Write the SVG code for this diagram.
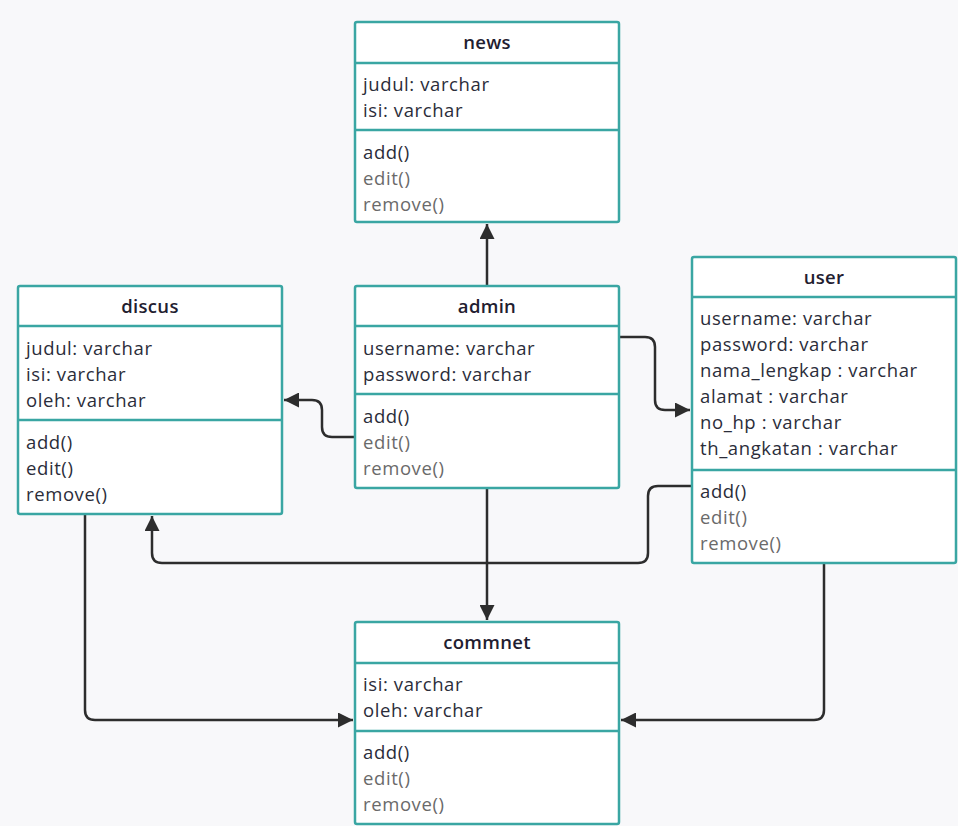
<svg xmlns="http://www.w3.org/2000/svg" width="958" height="826" viewBox="0 0 958 826">
<defs>
<marker id="arr" viewBox="0 0 10 10" refX="10" refY="5" markerWidth="6" markerHeight="6" markerUnits="strokeWidth" orient="auto">
<path d="M0,0 L10,5 L0,10 z" fill="#2d2d2d"/>
</marker>
<style>
.box{fill:#ffffff;stroke:#3aa6a3;stroke-width:2.5}
.sep{stroke:#3aa6a3;stroke-width:2.5}
.t{font-family:"Open Sans","Noto Sans","DejaVu Sans",sans-serif;font-size:18.5px;letter-spacing:0.6px;fill:#2b2d3a}
.g{fill:#6a6a6a}
.h{font-family:"Open Sans","Noto Sans","DejaVu Sans",sans-serif;font-size:18.5px;letter-spacing:0.3px;font-weight:600;fill:#1f2030;text-anchor:middle}
.c{fill:none;stroke:#2d2d2d;stroke-width:2.5;marker-end:url(#arr)}
</style>
</defs>
<rect width="958" height="826" fill="#f8f8fa"/>
<g id="connectors">
<path class="c" d="M487,286 L487,224"/>
<path class="c" d="M355,437 L332,437 Q322,437 322,427 L322,410 Q322,400 312,400 L284,400"/>
<path class="c" d="M619,337 L645,337 Q655,337 655,347 L655,400 Q655,410 665,410 L690,410"/>
<path class="c" d="M487,488 L487,620"/>
<path class="c" d="M692,486 L658,486 Q648,486 648,496 L648,553 Q648,563 638,563 L162,563 Q152,563 152,553 L152,516"/>
<path class="c" d="M85,514 L85,710 Q85,720 95,720 L353,720"/>
<path class="c" d="M824,563 L824,710 Q824,720 814,720 L621,720"/>
</g>
<g id="news">
<rect class="box" x="355" y="22" width="264" height="200" rx="2"/>
<line class="sep" x1="355" y1="63" x2="619" y2="63"/>
<line class="sep" x1="355" y1="130" x2="619" y2="130"/>
<text class="h" x="487" y="49">news</text>
<text class="t" x="363" y="91">judul: varchar</text>
<text class="t" x="363" y="117">isi: varchar</text>
<text class="t" x="363" y="159">add()</text>
<text class="t g" x="363" y="185">edit()</text>
<text class="t g" x="363" y="211">remove()</text>
</g>
<g id="discus">
<rect class="box" x="18" y="286" width="264" height="228" rx="2"/>
<line class="sep" x1="18" y1="326" x2="282" y2="326"/>
<line class="sep" x1="18" y1="420" x2="282" y2="420"/>
<text class="h" x="150" y="313">discus</text>
<text class="t" x="26" y="355">judul: varchar</text>
<text class="t" x="26" y="381">isi: varchar</text>
<text class="t" x="26" y="407">oleh: varchar</text>
<text class="t" x="26" y="449">add()</text>
<text class="t" x="26" y="475">edit()</text>
<text class="t" x="26" y="501">remove()</text>
</g>
<g id="admin">
<rect class="box" x="355" y="286" width="264" height="202" rx="2"/>
<line class="sep" x1="355" y1="326" x2="619" y2="326"/>
<line class="sep" x1="355" y1="394" x2="619" y2="394"/>
<text class="h" x="487" y="313">admin</text>
<text class="t" x="363" y="355">username: varchar</text>
<text class="t" x="363" y="381">password: varchar</text>
<text class="t" x="363" y="423">add()</text>
<text class="t g" x="363" y="449">edit()</text>
<text class="t g" x="363" y="475">remove()</text>
</g>
<g id="user">
<rect class="box" x="692" y="257" width="264" height="306" rx="2"/>
<line class="sep" x1="692" y1="297" x2="956" y2="297"/>
<line class="sep" x1="692" y1="470" x2="956" y2="470"/>
<text class="h" x="824" y="284">user</text>
<text class="t" x="700" y="325">username: varchar</text>
<text class="t" x="700" y="351">password: varchar</text>
<text class="t" x="700" y="377">nama_lengkap : varchar</text>
<text class="t" x="700" y="403">alamat : varchar</text>
<text class="t" x="700" y="429">no_hp : varchar</text>
<text class="t" x="700" y="455">th_angkatan : varchar</text>
<text class="t" x="700" y="498">add()</text>
<text class="t g" x="700" y="524">edit()</text>
<text class="t g" x="700" y="550">remove()</text>
</g>
<g id="commnet">
<rect class="box" x="355" y="622" width="264" height="202" rx="2"/>
<line class="sep" x1="355" y1="663" x2="619" y2="663"/>
<line class="sep" x1="355" y1="731" x2="619" y2="731"/>
<text class="h" x="487" y="649">commnet</text>
<text class="t" x="363" y="691">isi: varchar</text>
<text class="t" x="363" y="717">oleh: varchar</text>
<text class="t" x="363" y="759">add()</text>
<text class="t g" x="363" y="785">edit()</text>
<text class="t g" x="363" y="811">remove()</text>
</g>
</svg>
